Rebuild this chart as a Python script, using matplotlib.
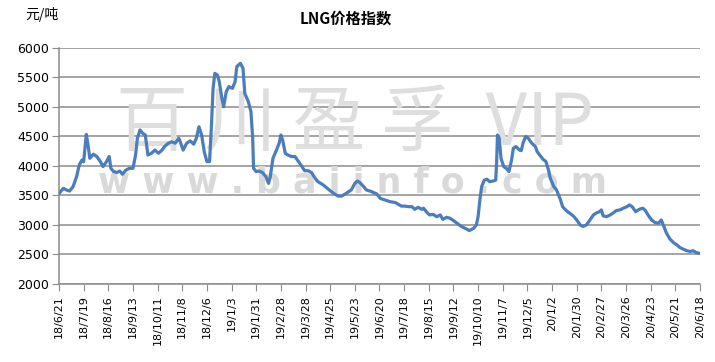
import numpy as np
import pandas as pd
import matplotlib
matplotlib.use("Agg")
import matplotlib.pyplot as plt


# Data: day offset from the first date, and price (元/吨)
START = "2018-06-21"
DAY = [
    0, 5, 9, 12, 16, 20, 23, 26, 28, 31, 33, 35, 39, 43, 47, 50, 54, 57, 59, 62,
    66, 69, 72, 76, 80, 84, 87, 89, 92, 95, 98, 101, 105, 109, 113, 117, 120, 124, 128, 132,
    136, 137, 141, 145, 149, 153, 156, 159, 162, 165, 168, 171, 173, 175, 177, 180, 182, 185, 187, 190,
    193, 197, 200, 202, 206, 209, 211, 215, 218, 220, 221, 224, 227, 231, 235, 238, 240, 243, 247, 250,
    252, 254, 257, 260, 264, 268, 272, 276, 279, 283, 287, 291, 294, 300, 306, 312, 317, 321, 325, 329,
    332, 336, 339, 342, 346, 349, 355, 361, 365, 370, 376, 382, 385, 389, 393, 397, 401, 404, 408, 412,
    414, 418, 421, 425, 429, 433, 436, 440, 444, 448, 452, 457, 463, 466, 471, 474, 476, 478, 480, 483,
    486, 489, 493, 496, 497, 498, 500, 502, 505, 508, 511, 514, 516, 519, 523, 525, 527, 530, 533, 537,
    541, 543, 546, 550, 553, 556, 558, 562, 565, 569, 572, 576, 580, 584, 588, 592, 595, 599, 603, 607,
    611, 614, 616, 618, 622, 626, 630, 633, 637, 641, 645, 648, 651, 655, 659, 663, 666, 669, 673, 677,
    681, 684, 687, 690, 694, 698, 702, 705, 709, 713, 717, 720, 724, 728,
]
PRICE = [
    3535, 3620, 3590, 3575, 3650, 3820, 4015, 4100, 4070, 4535, 4355, 4130, 4200, 4160, 4075, 3990, 4075, 4160, 3960, 3905,
    3890, 3915, 3860, 3930, 3960, 3960, 4185, 4470, 4610, 4555, 4525, 4185, 4215, 4270, 4215, 4270, 4330, 4385, 4410, 4385,
    4470, 4440, 4270, 4385, 4425, 4370, 4470, 4665, 4525, 4240, 4075, 4075, 4640, 5315, 5570, 5540, 5430, 5145, 5005, 5260,
    5345, 5315, 5430, 5685, 5740, 5655, 5230, 5090, 4920, 4470, 3960, 3905, 3915, 3890, 3820, 3705, 3820, 4130, 4270, 4385,
    4525, 4440, 4215, 4185, 4160, 4160, 4075, 3990, 3920, 3920, 3885, 3790, 3735, 3680, 3605, 3535, 3490, 3490, 3525, 3565,
    3595, 3705, 3745, 3715, 3650, 3595, 3565, 3525, 3450, 3425, 3395, 3380, 3355, 3320, 3320, 3310, 3310, 3265, 3300, 3265,
    3285, 3210, 3170, 3180, 3140, 3170, 3095, 3130, 3115, 3075, 3030, 2975, 2930, 2905, 2945, 3000, 3140, 3425, 3650, 3760,
    3775, 3735, 3745, 3760, 4045, 4525, 4470, 4130, 3990, 3960, 3905, 4100, 4300, 4330, 4270, 4260, 4385, 4500, 4470, 4385,
    4330, 4245, 4185, 4110, 4075, 3930, 3790, 3650, 3595, 3450, 3310, 3245, 3200, 3155, 3085, 3000, 2975, 3000, 3085, 3170,
    3210, 3225, 3255, 3155, 3140, 3170, 3210, 3245, 3255, 3285, 3310, 3340, 3310, 3225, 3265, 3285, 3245, 3170, 3085, 3040,
    3030, 3085, 2975, 2860, 2760, 2700, 2660, 2620, 2590, 2565, 2550, 2565, 2530, 2520,
]
TICK_LABELS = [
    "18/6/21", "18/7/19", "18/8/16", "18/9/13", "18/10/11", "18/11/8", "18/12/6",
    "19/1/3", "19/1/31", "19/2/28", "19/3/28", "19/4/25", "19/5/23", "19/6/20",
    "19/7/18", "19/8/15", "19/9/12", "19/10/10", "19/11/7", "19/12/5", "20/1/2",
    "20/1/30", "20/2/27", "20/3/26", "20/4/23", "20/5/21", "20/6/18",
]
Y_TICKS = [2000, 2500, 3000, 3500, 4000, 4500, 5000, 5500, 6000]

CJK = ["Noto Sans CJK SC", "DejaVu Sans"]
GRID = "#8c8c8c"

start = pd.Timestamp(START)
dates = start + pd.to_timedelta(DAY, unit="D")
tick_dates = pd.date_range(start, periods=len(TICK_LABELS), freq="28D")

fig = plt.figure(figsize=(7.15, 3.62), dpi=100)
ax = fig.add_axes([0.0825, 0.2155, 0.8965, 0.652])

# faint watermark, kept under the price line
ax.text(0.497, 0.655, "百 川 盈 孚  VIP", transform=fig.transFigure, family=CJK,
        fontsize=52, color="#dedede", ha="center", va="center", zorder=1, clip_on=False)
ax.text(0.493, 0.495, "w w w . b a i i n f o . c o m", transform=fig.transFigure,
        family="DejaVu Sans", fontsize=25, fontweight="bold", color="#d9d9d9",
        ha="center", va="center", zorder=1, clip_on=False)

ax.plot(dates, PRICE, color="#4a7dbc", linewidth=2.3, solid_joinstyle="round", zorder=3)

ax.set_ylim(2000, 6000)
ax.set_yticks(Y_TICKS)
ax.set_xlim(tick_dates[0], tick_dates[-1])
ax.set_xticks(tick_dates)
ax.set_xticklabels(TICK_LABELS, rotation=90, fontsize=8)
ax.tick_params(axis="y", labelsize=9, length=5, color=GRID, pad=2)
ax.tick_params(axis="x", length=5, color=GRID, pad=3)

ax.grid(axis="y", color=GRID, linewidth=1.1, zorder=0)
ax.set_axisbelow(True)
for side in ("top", "right"):
    ax.spines[side].set_visible(False)
for side in ("left", "bottom"):
    ax.spines[side].set_color(GRID)
    ax.spines[side].set_linewidth(1.1)

fig.text(0.483, 0.948, "LNG价格指数", family=CJK, fontsize=11, fontweight="bold",
         ha="center", va="center")
fig.text(0.035, 0.96, "元/吨", family=CJK, fontsize=10, ha="left", va="center")

fig.savefig("out.png", dpi=100)
